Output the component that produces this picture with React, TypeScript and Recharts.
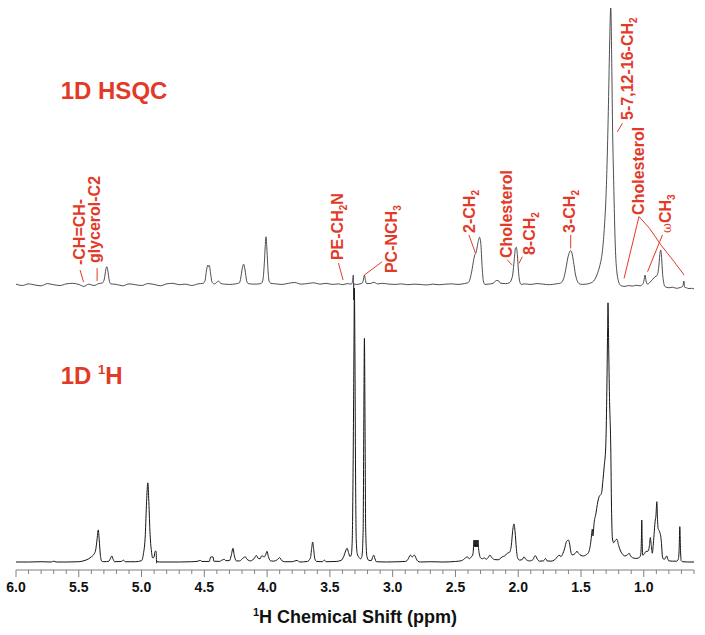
import React from 'react';
import { ComposedChart, Line, XAxis, YAxis, ReferenceDot, ReferenceLine } from 'recharts';

// ---- data (ppm, intensity) ----
const hsqcSpectrum: [number, number][] = [
  [6.0, 0.3], [5.95, -0.2], [5.9, 0.4], [5.85, 0], [5.8, -0.3], [5.75, 0.5], [5.7, 0.1], [5.65, -0.2], [5.6, 0.4],
  [5.55, 0.6], [5.5, 0.2], [5.46, -0.5], [5.42, 0.3], [5.38, -0.2], [5.34, 0.5], [5.31, 0.8], [5.295, 2.5],
  [5.285, 5.5], [5.277, 6.6], [5.268, 5], [5.258, 1.8], [5.245, 0.4], [5.2, 0.2], [5.15, -0.3], [5.1, 0.4],
  [5.05, 0.1], [5.0, -0.2], [4.95, 0.5], [4.9, 0.2], [4.85, -0.3], [4.8, 0.4], [4.75, 0.6], [4.7, 0.1],
  [4.65, 0.3], [4.6, -0.2], [4.55, 0.4], [4.51, 0.6], [4.495, 1.5], [4.482, 5.5], [4.472, 7.2], [4.466, 6.6],
  [4.46, 7.0], [4.45, 4], [4.438, 1], [4.42, 0.4], [4.4, 1.0], [4.387, 1.4], [4.37, 0.6], [4.34, 0.3],
  [4.3, 0.2], [4.25, 0.4], [4.22, 0.8], [4.21, 2.5], [4.198, 6], [4.187, 7.5], [4.176, 5.5], [4.163, 1.5],
  [4.15, 0.5], [4.1, 0.3], [4.05, 0.5], [4.035, 1.5], [4.022, 8], [4.015, 14], [4.009, 17.4], [4.003, 14],
  [3.995, 7], [3.985, 1.5], [3.97, 0.6], [3.93, 0.4], [3.88, 0.2], [3.83, 0.6], [3.78, 0.9], [3.73, 0.3],
  [3.68, 0.5], [3.63, 0.8], [3.58, 0.3], [3.53, 0.6], [3.48, 0.2], [3.43, 0.4], [3.4, 0.1], [3.36, 0.5],
  [3.33, 0.3], [3.32, 1.2], [3.313, 3.6], [3.311, -5.4], [3.309, 0.4], [3.29, 0.2], [3.26, 0.4], [3.24, 0.8],
  [3.232, 2.2], [3.225, 3.6], [3.218, 2], [3.21, 0.6], [3.18, 0.5], [3.15, 1.0], [3.12, 0.4], [3.08, 0.6],
  [3.03, 0.3], [2.98, 0.2], [2.93, 0.4], [2.88, 0.1], [2.83, 0.3], [2.78, 0.2], [2.73, 0], [2.68, 0.3],
  [2.63, 0.1], [2.58, 0.3], [2.53, 0.4], [2.48, 0.2], [2.43, 0.5], [2.4, 0.8], [2.385, 2], [2.37, 5],
  [2.355, 9], [2.345, 11], [2.335, 11.8], [2.322, 15], [2.308, 17.2], [2.298, 15], [2.288, 7], [2.278, 1.5],
  [2.265, 0.2], [2.24, 0.3], [2.2, 0.6], [2.175, 1.6], [2.16, 1.6], [2.14, 0.6], [2.1, 0.5], [2.07, 0.8],
  [2.055, 1.8], [2.043, 4], [2.032, 9], [2.022, 13.2], [2.015, 13.6], [2.007, 11], [1.998, 5], [1.988, 1.2],
  [1.975, 0.2], [1.95, 0.4], [1.9, 0.2], [1.85, 0.5], [1.8, 0.3], [1.75, 0.1], [1.7, 0.4], [1.67, 0.6],
  [1.65, 1.2], [1.635, 2.8], [1.62, 6], [1.605, 9.8], [1.592, 11.8], [1.582, 12.4], [1.572, 11.5], [1.56, 8.5],
  [1.545, 4], [1.53, 1.5], [1.515, 0.5], [1.49, 0.2], [1.46, 0.3], [1.43, 0.6], [1.41, 1.0], [1.39, 2],
  [1.37, 4], [1.35, 7], [1.33, 12], [1.315, 20], [1.3, 33], [1.29, 48], [1.28, 68], [1.272, 87], [1.263, 100],
  [1.255, 80], [1.248, 55], [1.24, 38], [1.232, 22], [1.225, 12], [1.215, 5], [1.205, 2], [1.195, 0.5],
  [1.18, -0.3], [1.15, -0.5], [1.12, -0.2], [1.09, -0.4], [1.06, -0.1], [1.03, -0.3], [1.005, 0.5],
  [0.995, 2.5], [0.99, 3.6], [0.982, 1.5], [0.97, 0.3], [0.95, 1.0], [0.93, 2.0], [0.91, 3.0], [0.895, 3.4],
  [0.882, 6], [0.872, 11], [0.865, 12.6], [0.858, 10], [0.85, 4], [0.84, 0.5], [0.83, -0.6], [0.8, -1],
  [0.77, -0.8], [0.74, -1.2], [0.71, -0.9], [0.69, -0.5], [0.68, 1.4], [0.675, -0.8], [0.66, -1], [0.64, -1.3],
  [0.62, -1.2], [0.6, -1.4],
];

const protonSpectrum: [number, number][] = [
  [6.0, 0], [5.9, 0], [5.8, 0.1], [5.72, 0], [5.7, 0.3], [5.68, 0], [5.6, 0], [5.5, 0.1], [5.45, 0.6],
  [5.42, 1.2], [5.4, 1.9], [5.38, 2.8], [5.365, 4.5], [5.355, 8], [5.345, 11.7], [5.337, 8], [5.328, 2.5],
  [5.317, 0.3], [5.3, 0.1], [5.26, 0.3], [5.245, 1.6], [5.237, 2.2], [5.228, 1.2], [5.215, 0.1], [5.16, 0.2],
  [5.145, 0.7], [5.13, 0.1], [5.05, 0.1], [5.0, 0.5], [4.985, 3], [4.97, 10], [4.96, 22], [4.95, 28.9],
  [4.942, 22], [4.932, 10], [4.92, 3.5], [4.912, 1.5], [4.9, 1.8], [4.895, 3.5], [4.889, 4.0], [4.884, 3.8],
  [4.88, -0.4], [4.875, 0.2], [4.86, 0], [4.7, 0], [4.6, 0.1], [4.55, 0.3], [4.533, 0.6], [4.52, 0.2],
  [4.46, 0.2], [4.45, 1.8], [4.44, 1.9], [4.43, 1.8], [4.425, 0.3], [4.38, 0.2], [4.355, 0.8], [4.341, 1.0],
  [4.33, 0.5], [4.3, 0.5], [4.285, 2.5], [4.272, 5], [4.262, 2.5], [4.245, 0.4], [4.22, 0.4], [4.19, 1.5],
  [4.174, 1.9], [4.16, 1.0], [4.13, 0.4], [4.1, 1.5], [4.086, 2.4], [4.07, 1.3], [4.055, 1.2], [4.045, 2.2],
  [4.036, 2.2], [4.025, 1.8], [4.012, 2.6], [4.001, 3.9], [3.99, 2], [3.975, 0.5], [3.95, 0.3], [3.92, 0.8],
  [3.9, 1.6], [3.885, 0.6], [3.86, 0.1], [3.8, 0.1], [3.762, 0.6], [3.74, 0], [3.68, 0.2], [3.655, 1.5],
  [3.645, 5], [3.637, 7.3], [3.63, 5], [3.62, 1.2], [3.605, 0.2], [3.56, 0.1], [3.544, 0.7], [3.53, 0.1],
  [3.45, 0.2], [3.41, 0.6], [3.39, 2], [3.375, 4], [3.363, 5], [3.352, 3.5], [3.34, 2], [3.33, 2.5],
  [3.322, 8], [3.315, 35], [3.308, 80], [3.305, 100], [3.301, 80], [3.296, 35], [3.29, 8], [3.282, 3],
  [3.27, 1.8], [3.255, 1.2], [3.245, 2], [3.235, 12], [3.23, 50], [3.225, 81.6], [3.22, 50], [3.215, 12],
  [3.205, 2], [3.19, 0.6], [3.17, 0.5], [3.158, 2], [3.151, 2.5], [3.143, 1.5], [3.13, 0.1], [3.05, 0],
  [2.95, 0.1], [2.9, 0.2], [2.875, 1.2], [2.865, 2.2], [2.858, 2.5], [2.845, 1.8], [2.835, 2.3], [2.826, 2.5],
  [2.815, 1.5], [2.8, 0.3], [2.78, 0], [2.7, 0.1], [2.6, 0], [2.5, 0.2], [2.45, 0.5], [2.42, 1.5],
  [2.406, 1.9], [2.39, 1.2], [2.375, 1.8], [2.36, 3], [2.352, 8], [2.348, 5.5], [2.344, 8], [2.34, 5.5],
  [2.336, 8], [2.332, 5.5], [2.328, 8], [2.324, 5.5], [2.32, 8], [2.316, 5], [2.31, 3], [2.3, 1.5],
  [2.285, 1.2], [2.27, 1.5], [2.255, 1.0], [2.24, 1.6], [2.226, 2.5], [2.21, 1.6], [2.19, 0.9], [2.16, 0.8],
  [2.13, 1.8], [2.1, 2.5], [2.087, 3.2], [2.07, 3.5], [2.055, 6], [2.045, 11], [2.034, 13.9], [2.025, 11],
  [2.015, 5], [2.005, 1.5], [1.99, 0.7], [1.97, 0.8], [1.954, 1.9], [1.94, 1.0], [1.91, 0.4], [1.88, 1.0],
  [1.868, 2.2], [1.861, 2.2], [1.85, 1.2], [1.83, 0.3], [1.8, 0.4], [1.782, 1.3], [1.77, 0.4], [1.74, 0.3],
  [1.71, 0.8], [1.69, 1.8], [1.675, 2.5], [1.66, 2], [1.645, 3], [1.63, 5], [1.615, 7.5], [1.6, 8],
  [1.59, 6.5], [1.58, 3.5], [1.57, 2.6], [1.555, 2.8], [1.54, 3.5], [1.532, 4], [1.526, 3.5], [1.515, 3],
  [1.5, 2.4], [1.48, 2.2], [1.463, 2.5], [1.44, 3.5], [1.43, 5], [1.42, 8], [1.41, 12], [1.405, 9.5],
  [1.396, 14.1], [1.38, 18], [1.37, 21], [1.356, 23.8], [1.345, 24.5], [1.337, 25], [1.325, 30], [1.315, 35],
  [1.303, 42], [1.295, 60], [1.288, 85], [1.285, 94.6], [1.28, 80], [1.273, 60], [1.263, 42], [1.257, 20],
  [1.25, 8.8], [1.24, 7], [1.228, 7.8], [1.215, 8.3], [1.2, 6], [1.185, 4], [1.17, 2.9], [1.15, 2.2],
  [1.13, 2.6], [1.117, 3.2], [1.105, 2.2], [1.09, 1.6], [1.064, 1.3], [1.04, 1.5], [1.025, 2.5], [1.019, 8],
  [1.016, 15.3], [1.013, 8], [1.008, 2.5], [0.998, 2.8], [0.984, 3.8], [0.965, 4], [0.955, 6], [0.948, 8.9],
  [0.94, 6], [0.932, 3.2], [0.925, 6], [0.918, 10], [0.91, 14.7], [0.903, 17], [0.896, 22], [0.891, 16],
  [0.886, 12.3], [0.878, 11.5], [0.87, 10.5], [0.865, 9.5], [0.859, 6.8], [0.851, 1.9], [0.84, 1.0],
  [0.83, 1.2], [0.822, 2], [0.817, 2.2], [0.81, 1.2], [0.8, 0.4], [0.77, 0.3], [0.74, 0.3], [0.725, 1],
  [0.718, 5], [0.713, 12.9], [0.708, 5], [0.702, 0.5], [0.69, 0.1], [0.65, 0], [0.6, 0],
];

const xTicks = [
  6.0, 5.9, 5.8, 5.7, 5.6, 5.5, 5.4, 5.3, 5.2, 5.1, 5.0, 4.9, 4.8, 4.7, 4.6, 4.5, 4.4, 4.3, 4.2, 4.1,
  4.0, 3.9, 3.8, 3.7, 3.6, 3.5, 3.4, 3.3, 3.2, 3.1, 3.0, 2.9, 2.8, 2.7, 2.6, 2.5, 2.4, 2.3, 2.2, 2.1,
  2.0, 1.9, 1.8, 1.7, 1.6, 1.5, 1.4, 1.3, 1.2, 1.1, 1.0, 0.9, 0.8, 0.7, 0.6,
];

type Seg = { t: string; sub?: boolean; omega?: boolean };

// annotation label anchors (ppm, HSQC intensity) - bottom end of rotated label
const annotations: { ppm: number; v: number; segs: Seg[] }[] = [
  { ppm: 5.45, v: 7.2, segs: [{ t: '-CH=CH-' }] },
  { ppm: 5.33, v: 7.9, segs: [{ t: 'glycerol-C2' }] },
  { ppm: 3.392, v: 9.0, segs: [{ t: 'PE-CH' }, { t: '2', sub: true }, { t: 'N' }] },
  { ppm: 2.962, v: 4.3, segs: [{ t: 'PC-NCH' }, { t: '3', sub: true }] },
  { ppm: 2.348, v: 18.8, segs: [{ t: '2-CH' }, { t: '2', sub: true }] },
  { ppm: 2.053, v: 9.7, segs: [{ t: 'Cholesterol' }] },
  { ppm: 1.869, v: 10.8, segs: [{ t: '8-CH' }, { t: '2', sub: true }] },
  { ppm: 1.55, v: 18.8, segs: [{ t: '3-CH' }, { t: '2', sub: true }] },
  { ppm: 1.088, v: 59.6, segs: [{ t: '5-7,12-16-CH' }, { t: '2', sub: true }] },
  { ppm: 0.998, v: 25.3, segs: [{ t: 'Cholesterol' }] },
  { ppm: 0.785, v: 18.8, segs: [{ t: 'ω', omega: true }, { t: 'CH' }, { t: '3', sub: true }] },
];

// leader lines (ppm, HSQC intensity) polylines
const leaders: [number, number][][] = [
  [[5.49, 5.4], [5.462, 1.1]],
  [[5.354, 6.1], [5.354, 1.4]],
  [[3.432, 7.9], [3.395, 1.8]],
  [[3.225, 3.6], [3.084, 8.4]],
  [[2.393, 18.1], [2.34, 11.4]],
  [[2.087, 9.0], [2.047, 7.2]],
  [[1.967, 10.2], [1.994, 7.8]],
  [[1.582, 18.1], [1.582, 13.2]],
  [[1.21, 55.3], [1.17, 58.4]],
  [[1.038, 24.7], [1.157, 2.4]],
  [[1.038, 24.7], [0.955, 20.5], [0.864, 14.5], [0.76, 8.5], [0.679, 3.6]],
  [[0.851, 18.1], [0.97, 4.8]],
];

const titles = [
  { ppm: 5.644, v: 67.1, axis: 'hsqc', main: '1D HSQC', sup: '' },
  { ppm: 5.644, v: 65.0, axis: 'h1', main: '1D ', sup: '1', after: 'H' },
];

const RED = '#e23a28';
const FONT = '"Liberation Sans", Arial, sans-serif';

const hsqcData = hsqcSpectrum.map(([ppm, v]) => ({ ppm, v }));
const protonData = protonSpectrum.map(([ppm, v]) => ({ ppm, v }));

function RotLabel({ cx, cy, segs }: { cx: number; cy: number; segs: Seg[] }) {
  let shifted = false;
  return (
    <text
      x={cx}
      y={cy}
      transform={`rotate(-90 ${cx} ${cy})`}
      textAnchor="start"
      fill={RED}
      fontSize={16}
      fontWeight="bold"
      fontFamily={FONT}
    >
      {segs.map((s, i) => {
        if (s.sub) {
          shifted = true;
          return (
            <tspan key={i} fontSize={10} dy={4}>
              {s.t}
            </tspan>
          );
        }
        const dy = shifted ? -4 : 0;
        shifted = false;
        if (s.omega) {
          return (
            <tspan key={i} fontSize={12} fontWeight="normal" dy={dy} fontFamily='"DejaVu Serif", serif'>
              {s.t}
            </tspan>
          );
        }
        return (
          <tspan key={i} dy={dy}>
            {s.t}
          </tspan>
        );
      })}
    </text>
  );
}

function AxisTick(props: any) {
  const { x, y, payload } = props;
  const v: number = payload.value;
  const major = Math.round(v * 10) % 5 === 0;
  return (
    <g>
      <line x1={x} y1={y} x2={x} y2={y + (major ? 7 : 4)} stroke="#808080" strokeWidth={1} />
      {major && (
        <text x={x} y={y + 22} textAnchor="middle" fontSize={14} fontWeight="bold" fontFamily={FONT} fill="#111">
          {v.toFixed(1)}
        </text>
      )}
    </g>
  );
}

function AxisTitle(props: any) {
  const vb = props.viewBox || { x: 16, y: 570, width: 678, height: 65 };
  const cx = vb.x + vb.width / 2;
  const y = vb.y + 53;
  return (
    <text x={cx} y={y} textAnchor="middle" fontSize={18} fontWeight="bold" fontFamily={FONT} fill="#111">
      <tspan fontSize={11} dy={-7}>1</tspan>
      <tspan dy={7}>H Chemical Shift (ppm)</tspan>
    </text>
  );
}

export default function App() {
  return (
    <div style={{ position: 'absolute', left: 0, top: 0, width: 705, height: 635, background: '#fff' }}>
      <ComposedChart width={705} height={635} margin={{ top: 8, right: 11, bottom: 0, left: 16 }}>
        <XAxis
          dataKey="ppm"
          type="number"
          domain={[0.6, 6.0]}
          reversed
          allowDataOverflow
          ticks={xTicks}
          interval={0}
          tickSize={0}
          tickMargin={0}
          tickLine={false}
          axisLine={{ stroke: '#808080', strokeWidth: 1 }}
          tick={(p: any) => <AxisTick {...p} />}
          height={65}
          label={{ content: (p: any) => <AxisTitle {...p} /> }}
        />
        <YAxis yAxisId="hsqc" hide type="number" domain={[-102.9, 100]} allowDataOverflow />
        <YAxis yAxisId="h1" hide type="number" domain={[-2.92, 202.2]} allowDataOverflow />

        <Line
          data={hsqcData}
          dataKey="v"
          yAxisId="hsqc"
          type="monotone"
          stroke="#3a3a3a"
          strokeWidth={0.9}
          dot={false}
          activeDot={false}
          isAnimationActive={false}
        />
        <Line
          data={protonData}
          dataKey="v"
          yAxisId="h1"
          type="monotone"
          stroke="#151515"
          strokeWidth={1}
          dot={false}
          activeDot={false}
          isAnimationActive={false}
        />

        {leaders.flatMap((pts, li) =>
          pts.slice(1).map((p, i) => (
            <ReferenceLine
              key={`l${li}-${i}`}
              yAxisId="hsqc"
              segment={[
                { x: pts[i][0], y: pts[i][1] },
                { x: p[0], y: p[1] },
              ]}
              stroke={RED}
              strokeWidth={1}
              ifOverflow="visible"
            />
          ))
        )}

        {annotations.map((a, i) => (
          <ReferenceDot
            key={`a${i}`}
            x={a.ppm}
            y={a.v}
            yAxisId="hsqc"
            r={0}
            ifOverflow="visible"
            shape={(p: any) => <RotLabel cx={p.cx} cy={p.cy} segs={a.segs} />}
          />
        ))}

        {titles.map((t, i) => (
          <ReferenceDot
            key={`t${i}`}
            x={t.ppm}
            y={t.v}
            yAxisId={t.axis}
            r={0}
            ifOverflow="visible"
            shape={(p: any) => (
              <text x={p.cx} y={p.cy} textAnchor="start" fill={RED} fontSize={24} fontWeight="bold" fontFamily={FONT}>
                <tspan>{t.main}</tspan>
                {t.sup && (
                  <tspan fontSize={13} dy={-10}>
                    {t.sup}
                  </tspan>
                )}
                {t.after && <tspan dy={10}>{t.after}</tspan>}
              </text>
            )}
          />
        ))}
      </ComposedChart>
    </div>
  );
}
